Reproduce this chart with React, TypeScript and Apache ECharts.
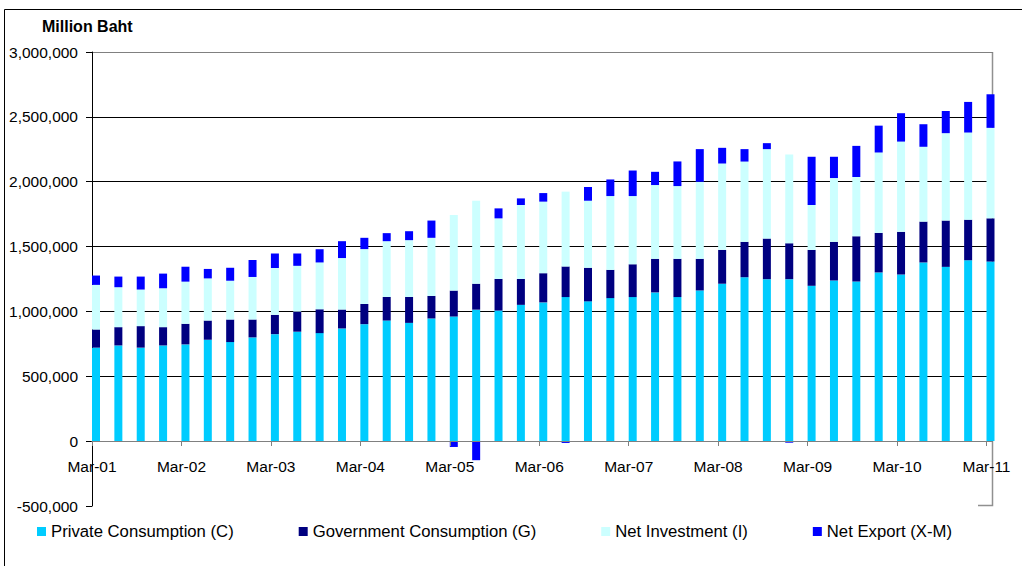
import { useEffect, useRef } from 'react';
import * as echarts from 'echarts';

const quarters = [
  'Mar-01', 'Jun-01', 'Sep-01', 'Dec-01',
  'Mar-02', 'Jun-02', 'Sep-02', 'Dec-02',
  'Mar-03', 'Jun-03', 'Sep-03', 'Dec-03',
  'Mar-04', 'Jun-04', 'Sep-04', 'Dec-04',
  'Mar-05', 'Jun-05', 'Sep-05', 'Dec-05',
  'Mar-06', 'Jun-06', 'Sep-06', 'Dec-06',
  'Mar-07', 'Jun-07', 'Sep-07', 'Dec-07',
  'Mar-08', 'Jun-08', 'Sep-08', 'Dec-08',
  'Mar-09', 'Jun-09', 'Sep-09', 'Dec-09',
  'Mar-10', 'Jun-10', 'Sep-10', 'Dec-10',
  'Mar-11',
];

const seriesNames = [
  'Private Consumption (C)',
  'Government Consumption (G)',
  'Net Investment (I)',
  'Net Export (X-M)',
];

const privateConsumption = [
  720000, 737000, 720000, 737000, 745000, 781000, 763000, 799000, 824000, 843000,
  832000, 868000, 901000, 929000, 911000, 945000, 960000, 1013000, 1006000, 1050000,
  1069000, 1110000, 1077000, 1102000, 1110000, 1146000, 1110000, 1161000, 1213000, 1263000,
  1248000, 1248000, 1197000, 1238000, 1230000, 1300000, 1284000, 1377000, 1343000, 1394000,
  1384000,
];

const governmentConsumption = [
  140000, 141000, 166000, 141000, 159000, 148000, 174000, 138000, 149000, 155000,
  184000, 146000, 156000, 182000, 200000, 174000, 200000, 200000, 244000, 200000,
  225000, 236000, 259000, 218000, 253000, 259000, 295000, 244000, 261000, 273000,
  313000, 277000, 277000, 298000, 349000, 305000, 329000, 315000, 357000, 313000,
  333000,
];

const netInvestment = [
  344000, 308000, 282000, 300000, 325000, 325000, 299000, 328000, 361000, 353000,
  361000, 397000, 423000, 430000, 438000, 448000, 583000, 640000, 467000, 570000,
  552000, 577000, 517000, 569000, 526000, 569000, 561000, 594000, 666000, 619000,
  690000, 684000, 346000, 492000, 457000, 620000, 696000, 577000, 674000, 672000,
  698000,
];

const netExport = [
  72000, 82000, 100000, 113000, 115000, 73000, 100000, 131000, 112000, 95000,
  102000, 130000, 87000, 62000, 69000, 133000, -46000, -148000, 77000, 51000,
  66000, -15000, 106000, 128000, 197000, 102000, 190000, 252000, 121000, 96000,
  46000, -13000, 372000, 164000, 240000, 207000, 219000, 174000, 171000, 236000,
  259000,
];

const seriesColors = ['#00CCFF', '#000080', '#CCFFFF', '#0000FF'];

const FONT = '"Liberation Sans", Arial, Helvetica, sans-serif';

export default function App() {
  const ref = useRef<HTMLDivElement>(null);

  useEffect(() => {
    if (!ref.current) return;
    const chart = echarts.init(ref.current, undefined, { renderer: 'svg' });
    const valueSets = [privateConsumption, governmentConsumption, netInvestment, netExport];

    const barSeries = seriesNames.map((name, k) => ({
      name,
      type: 'bar',
      stack: 'gdp',
      xAxisIndex: 0,
      yAxisIndex: 0,
      barWidth: 8,
      barGap: '0%',
      clip: false,
      itemStyle: { color: seriesColors[k] },
      data: valueSets[k],
    }));

    // empty companion series so that each visible bar starts at its category point
    const spacer = {
      name: '_spacer',
      type: 'bar',
      stack: 'spacer',
      xAxisIndex: 0,
      yAxisIndex: 0,
      barWidth: 8,
      barGap: '0%',
      silent: true,
      itemStyle: { color: 'rgba(0,0,0,0)' },
      data: quarters.map(() => 0),
    };

    const option = {
      animation: false,
      textStyle: { fontFamily: FONT },
      title: {
        text: 'Million Baht',
        left: 42,
        top: 18,
        padding: 0,
        textStyle: { fontSize: 16, fontWeight: 'bold', color: '#000', fontFamily: FONT },
      },
      legend: {
        data: seriesNames,
        left: 37,
        top: 523,
        padding: 0,
        icon: 'rect',
        itemWidth: 9,
        itemHeight: 9,
        itemGap: 65,
        textStyle: { fontSize: 16.7, color: '#000', fontFamily: FONT },
      },
      grid: [
        // bars: upper part of the plot, from 0 up to 3,000,000 (negative bars overflow below)
        { left: 92, right: 35.5, top: 52, bottom: 125, containLabel: false },
        // full plot frame, -500,000 to 3,000,000
        { left: 92, right: 29, top: 52, bottom: 60, containLabel: false },
      ],
      xAxis: [
        {
          gridIndex: 0,
          type: 'category',
          data: quarters,
          boundaryGap: false,
          z: 10,
          axisLine: { show: true, onZero: false, lineStyle: { color: '#808080', width: 1 } },
          axisTick: { show: true, interval: 3, length: 5, lineStyle: { color: '#808080' } },
          axisLabel: {
            interval: 3,
            margin: 17,
            fontSize: 15.5,
            color: '#000',
            fontFamily: FONT,
          },
          splitLine: { show: false },
        },
        { gridIndex: 1, type: 'value', min: 0, max: 1, show: false },
      ],
      yAxis: [
        { gridIndex: 0, type: 'value', min: 0, max: 3000000, show: false, splitLine: { show: false } },
        {
          gridIndex: 1,
          type: 'value',
          min: -500000,
          max: 3000000,
          interval: 500000,
          axisLine: { show: true, onZero: false, lineStyle: { color: '#000', width: 1 } },
          axisTick: { show: true, length: 6, lineStyle: { color: '#000' } },
          axisLabel: {
            margin: 14,
            fontSize: 15.5,
            color: '#000',
            fontFamily: FONT,
            formatter: (v: number) => v.toLocaleString('en-US'),
          },
          splitLine: {
            show: true,
            lineStyle: {
              width: 1,
              color: [
                'rgba(0,0,0,0)', '#808080', '#000', '#000', '#000', '#000', '#000', '#808080',
              ],
            },
          },
        },
      ],
      graphic: [
        {
          type: 'rect',
          silent: true,
          shape: { x: 4.5, y: 9.5, width: 1100, height: 600 },
          style: { fill: 'none', stroke: '#000', lineWidth: 1 },
        },
        {
          type: 'polyline',
          silent: true,
          shape: { points: [[992.5, 52], [992.5, 505.5], [978, 505.5]] },
          style: { fill: 'none', stroke: '#909090', lineWidth: 1.5 },
        },
      ],
      series: [spacer, ...barSeries],
    };

    chart.setOption(option as any);
    return () => chart.dispose();
  }, []);

  return (
    <div
      ref={ref}
      style={{ position: 'absolute', left: 0, top: 0, width: 1022, height: 566, background: '#fff' }}
    />
  );
}
